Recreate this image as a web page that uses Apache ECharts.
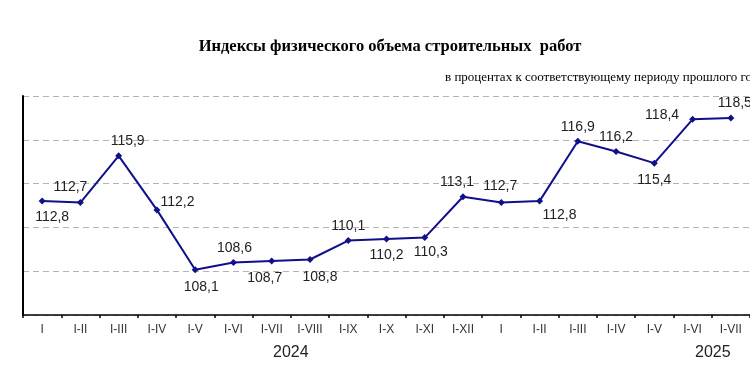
<!DOCTYPE html>
<html>
<head>
<meta charset="utf-8">
<script src="https://cdn.jsdelivr.net/npm/echarts@6/dist/echarts.min.js"></script>
<style>
html,body{margin:0;padding:0;background:#fff;}
#chart{width:750px;height:375px;}
</style>
</head>
<body>
<div id="chart"></div>
<script>
const categories = ['I','I-II','I-III','I-IV','I-V','I-VI','I-VII','I-VIII','I-IX','I-X','I-XI','I-XII',
                    'I','I-II','I-III','I-IV','I-V','I-VI','I-VII'];
const values = [112.8,112.7,115.9,112.2,108.1,108.6,108.7,108.8,110.1,110.2,110.3,113.1,
                112.7,112.8,116.9,116.2,115.4,118.4,118.5];
const years = ['2024','2025'];

// label placement per point: [position, dx, dy]
const labelLayout = [
  ['bottom',10,2],['top',-10,-1],['top',9,0],['right',-4,-8],['bottom',6,3],
  ['top',1,0],['bottom',-7,3],['bottom',10,3],['top',0,0],['bottom',0,2],
  ['bottom',6,0],['top',-6,0],['top',-1,-2],['bottom',20,0],['top',0,0],
  ['top',0,0],['bottom',0,2],['left',-2,-4],['top',4,0]
];

const data = values.map((v,i)=>{
  const l = labelLayout[i];
  return {value:v, label:{position:l[0], offset:[l[1],l[2]], distance: l[0]==='left'?8:4}};
});

const chart = echarts.init(document.getElementById('chart'), null, {renderer:'canvas'});
chart.setOption({
  animation:false,
  backgroundColor:'#fff',
  title:[{
    text:'Индексы физического объема строительных  работ',
    left:385, top:33, textAlign:'center',
    textStyle:{fontFamily:'Liberation Serif', fontWeight:'bold', fontSize:16.5, color:'#000'}
  },{
    text:'в процентах к соответствующему периоду прошлого года',
    left:440, top:66,
    textStyle:{fontFamily:'Liberation Serif', fontWeight:'normal', fontSize:13, color:'#000'}
  }],
  grid:{left:23, top:96, bottom:60, right:-1, containLabel:false},
  xAxis:{
    type:'category', data:categories, boundaryGap:true,
    axisLine:{show:true, lineStyle:{color:'#000', width:1.5}},
    axisTick:{show:true, length:3, lineStyle:{color:'#000', width:1.5}},
    axisLabel:{color:'#333', fontFamily:'Liberation Sans', fontSize:12, margin:9, interval:0}
  },
  yAxis:{
    type:'value', min:105, max:120, interval:3,
    axisLine:{show:true, lineStyle:{color:'#000', width:2}},
    axisTick:{show:false},
    axisLabel:{show:false},
    splitLine:{show:true, lineStyle:{color:'#b4b4b4', type:[6,4], width:1}}
  },
  series:[{
    type:'line', data:data,
    symbol:'diamond', symbolSize:7,
    lineStyle:{color:'#10108a', width:2},
    itemStyle:{color:'#10108a'},
    label:{show:true, fontFamily:'Liberation Sans', fontSize:14, color:'#222',
      formatter:p=>String(p.value).replace('.',',')}
  }],
  graphic:[
    {type:'text', left:273, top:345, style:{text:years[0], font:'16px "Liberation Sans"', fill:'#222'}},
    {type:'text', left:695, top:345, style:{text:years[1], font:'16px "Liberation Sans"', fill:'#222'}}
  ]
});
</script>
</body>
</html>
